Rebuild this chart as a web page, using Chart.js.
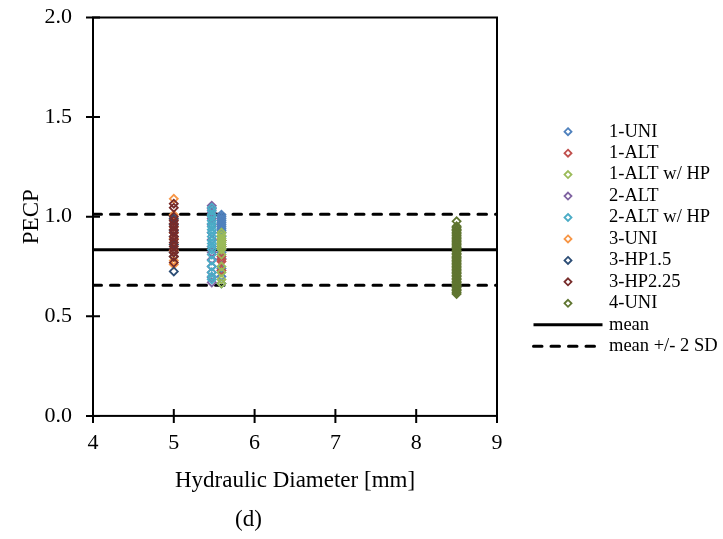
<!DOCTYPE html>
<html>
<head>
<meta charset="utf-8">
<script src="https://cdn.jsdelivr.net/npm/chart.js@4.4.1/dist/chart.umd.min.js"></script>
<style>
  html, body { margin: 0; padding: 0; background: #fff; }
</style>
</head>
<body>
<canvas id="chart" width="723" height="539"></canvas>
<script>
/* PECP vs hydraulic diameter, panel (d) */

const SERIF = '"Liberation Serif", "Times New Roman", serif';

// series names and colours
const seriesNames = ['1-UNI', '1-ALT', '1-ALT w/ HP', '2-ALT', '2-ALT w/ HP', '3-UNI', '3-HP1.5', '3-HP2.25', '4-UNI'];
const seriesColors = ['#4F81BD', '#C0504D', '#9BBB59', '#8064A2', '#4BACC6', '#F79646', '#2C4D75', '#772C2A', '#5F7530'];

// hydraulic diameter of each test section [mm]
const seriesDh = [5.59, 5.59, 5.59, 5.47, 5.47, 5.0, 5.0, 5.0, 8.5];

// PECP values per series
const pecp1UNI   = [1.01, 1.0, 0.99, 0.98, 0.97, 0.96, 0.95, 0.94, 0.93, 0.92, 0.9, 0.88, 0.86, 0.84, 0.82, 0.79, 0.74, 0.7, 0.665];
const pecp1ALT   = [0.88, 0.85, 0.8, 0.785, 0.775, 0.73];
const pecp1ALTHP = [0.92, 0.905, 0.89, 0.88, 0.87, 0.86, 0.85, 0.84, 0.835, 0.81, 0.75, 0.72, 0.685, 0.665];
const pecp2ALT   = [1.055, 1.04, 1.02, 0.99, 0.96, 0.92, 0.885, 0.85, 0.82, 0.785, 0.75, 0.72, 0.695, 0.67];
const pecp2ALTHP = [1.045, 1.03, 1.01, 1.0, 0.98, 0.965, 0.95, 0.935, 0.92, 0.9, 0.88, 0.865, 0.85, 0.835, 0.81, 0.78, 0.75, 0.72, 0.7, 0.685];
const pecp3UNI   = [1.09, 1.01, 0.985, 0.95, 0.92, 0.89, 0.86, 0.83, 0.8, 0.78, 0.76];
const pecp3HP15  = [0.99, 0.96, 0.93, 0.9, 0.86, 0.82, 0.8, 0.725];
const pecp3HP225 = [1.065, 1.045, 1.0, 0.98, 0.965, 0.95, 0.935, 0.92, 0.9, 0.885, 0.87, 0.85, 0.835, 0.82, 0.8, 0.77];
const pecp4UNI   = [0.977, 0.952, 0.945, 0.936, 0.931, 0.922, 0.914, 0.907, 0.898, 0.892, 0.883, 0.877, 0.868, 0.862,
                    0.853, 0.846, 0.84, 0.831, 0.825, 0.816, 0.811, 0.802, 0.794, 0.788, 0.779, 0.773, 0.764, 0.758,
                    0.749, 0.743, 0.734, 0.728, 0.719, 0.713, 0.704, 0.698, 0.689, 0.683, 0.674, 0.668, 0.659, 0.653,
                    0.645, 0.636, 0.63, 0.621, 0.612];
const seriesValues = [pecp1UNI, pecp1ALT, pecp1ALTHP, pecp2ALT, pecp2ALTHP, pecp3UNI, pecp3HP15, pecp3HP225, pecp4UNI];

// overall mean and standard deviation
const pecpMean = 0.834;
const pecpSD = 0.089;

// axes
const xRange = [4, 9];
const yRange = [0, 2];

// ── datasets ──
const scatterSets = seriesNames.map((name, i) => ({
  label: name,
  data: seriesValues[i].map(v => ({ x: seriesDh[i], y: v })),
  pointStyle: 'rectRot',
  pointRadius: 4,
  pointHoverRadius: 4,
  pointBorderWidth: 1.8,
  borderColor: seriesColors[i],
  backgroundColor: 'rgba(0,0,0,0)',
  order: 100 - i,   // later series on top
}));

const lineSets = [
  {
    label: 'mean',
    data: xRange.map(x => ({ x, y: pecpMean })),
    showLine: true,
    borderColor: '#000',
    borderWidth: 3,
    pointRadius: 0,
    order: 200,
  },
  {
    label: 'mean +/- 2 SD',
    data: xRange.map(x => ({ x, y: pecpMean + 2 * pecpSD })),
    showLine: true,
    borderColor: '#000',
    borderWidth: 3,
    borderDash: [8.5, 9],
    borderCapStyle: 'round',
    pointRadius: 0,
    order: 201,
  },
  {
    label: 'mean +/- 2 SD',
    data: xRange.map(x => ({ x, y: pecpMean - 2 * pecpSD })),
    showLine: true,
    borderColor: '#000',
    borderWidth: 3,
    borderDash: [8.5, 9],
    borderCapStyle: 'round',
    pointRadius: 0,
    order: 202,
    hideInLegend: true,
  },
];

// ── plot frame and crossing tick marks ──
const frameTicks = {
  id: 'frameTicks',
  beforeDatasetsDraw(chart) {
    const { ctx, chartArea: a, scales: { x, y } } = chart;
    ctx.save();
    ctx.strokeStyle = '#000';
    ctx.lineWidth = 2;
    ctx.strokeRect(a.left, a.top, a.right - a.left, a.bottom - a.top);
    ctx.beginPath();
    x.ticks.forEach(t => {
      const px = x.getPixelForValue(t.value);
      ctx.moveTo(px, a.bottom - 7);
      ctx.lineTo(px, a.bottom + 7);
    });
    y.ticks.forEach(t => {
      const py = y.getPixelForValue(t.value);
      ctx.moveTo(a.left - 7, py);
      ctx.lineTo(a.left + 7, py);
    });
    ctx.stroke();
    ctx.restore();
  }
};

// ── legend on the right ──
const sideLegend = {
  id: 'sideLegend',
  afterDraw(chart) {
    const { ctx } = chart;
    const top = 131.7, row = 21.45, cx = 568, textX = 609;
    ctx.save();
    ctx.font = '18.5px ' + SERIF;
    ctx.textBaseline = 'middle';
    ctx.textAlign = 'left';
    let k = 0;
    chart.data.datasets.forEach(ds => {
      if (ds.hideInLegend) return;
      const yy = top + k * row;
      ctx.strokeStyle = ds.borderColor;
      if (ds.showLine) {
        ctx.lineWidth = ds.borderWidth;
        ctx.setLineDash(ds.borderDash || []);
        ctx.lineCap = ds.borderCapStyle || 'butt';
        ctx.beginPath();
        ctx.moveTo(cx - 34.5, yy);
        ctx.lineTo(cx + 34.5, yy);
        ctx.stroke();
        ctx.setLineDash([]);
        ctx.lineCap = 'butt';
      } else {
        const r = 3.5;
        ctx.lineWidth = ds.pointBorderWidth;
        ctx.beginPath();
        ctx.moveTo(cx, yy - r);
        ctx.lineTo(cx + r, yy);
        ctx.lineTo(cx, yy + r);
        ctx.lineTo(cx - r, yy);
        ctx.closePath();
        ctx.stroke();
      }
      ctx.fillStyle = '#000';
      ctx.fillText(ds.label, textX, yy);
      k++;
    });
    ctx.restore();
  }
};

new Chart(document.getElementById('chart'), {
  type: 'scatter',
  data: { datasets: [...scatterSets, ...lineSets] },
  plugins: [frameTicks, sideLegend],
  options: {
    responsive: false,
    animation: false,
    events: [],
    layout: { padding: { left: 0, top: 17.5, right: 226, bottom: 0 } },
    plugins: {
      legend: { display: false },
      tooltip: { enabled: false },
      title: {
        display: true,
        position: 'bottom',
        text: '(d)',
        color: '#000',
        font: { family: SERIF, size: 23, weight: 'normal' },
        padding: { top: 0, bottom: 5 },
      },
    },
    scales: {
      x: {
        type: 'linear',
        min: xRange[0],
        max: xRange[1],
        grid: { display: false, drawTicks: false },
        border: { display: false },
        ticks: { stepSize: 1, color: '#000', padding: 14, font: { family: SERIF, size: 22 } },
        title: {
          display: true,
          text: 'Hydraulic Diameter [mm]',
          color: '#000',
          font: { family: SERIF, size: 23 },
          padding: { top: 0, bottom: 11.5 },
        },
        afterFit: s => {
          s.height = 90.5;
          s.paddingLeft = 0;
          s.paddingRight = 0;
        },
      },
      y: {
        type: 'linear',
        min: yRange[0],
        max: yRange[1],
        grid: { display: false, drawTicks: false },
        border: { display: false },
        ticks: {
          stepSize: 0.5,
          color: '#000',
          padding: 21,
          font: { family: SERIF, size: 22 },
          callback: v => v.toFixed(1),
        },
        title: {
          display: true,
          text: 'PECP',
          color: '#000',
          font: { family: SERIF, size: 23 },
          padding: { top: 18, bottom: 0 },
        },
        afterFit: s => {
          s.width = 93;
          s.paddingTop = 0;
          s.paddingBottom = 0;
        },
      },
    },
  },
});
</script>
</body>
</html>
